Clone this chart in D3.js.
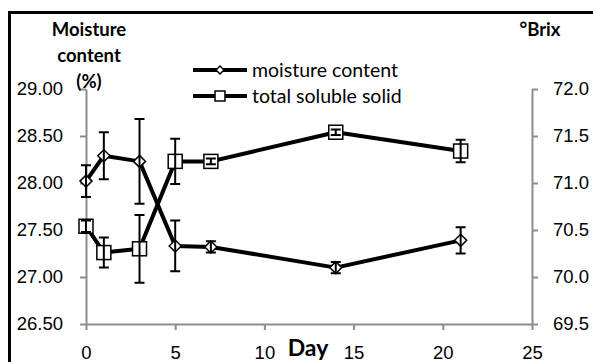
<!DOCTYPE html>
<html>
<head>
<meta charset="utf-8">
<script src="https://cdn.jsdelivr.net/npm/d3@7"></script>
<style>
  body { margin: 0; background: #fff; }
  svg { display: block; font-family: Lato, "Open Sans", sans-serif; }
</style>
</head>
<body>
<svg id="chart" width="593" height="362"></svg>
<script>
// data
var days = [0, 1, 3, 5, 7, 14, 21];
var moisture = [28.02, 28.29, 28.23, 27.33, 27.32, 27.10, 27.39];
var moistureErr = [0.17, 0.25, 0.45, 0.27, 0.06, 0.06, 0.14];
var tss = [70.54, 70.26, 70.30, 71.23, 71.23, 71.54, 71.34];
var tssErr = [0.06, 0.16, 0.36, 0.24, 0.03, 0.03, 0.12];
var xTicks = [0, 5, 10, 15, 20, 25];
var leftTicks = [26.5, 27.0, 27.5, 28.0, 28.5, 29.0];
var rightTicks = [69.5, 70.0, 70.5, 71.0, 71.5, 72.0];
var seriesNames = ['moisture content', 'total soluble solid'];

var svg = d3.select('#chart');
var axisColor = '#8c8c8c';

var x = d3.scaleLinear().domain([0, 25]).range([86, 532]);
var yL = d3.scaleLinear().domain([26.5, 29]).range([324, 89]);
var yR = d3.scaleLinear().domain([69.5, 72]).range([324, 89]);

// outer frame (only top and left edges show in the crop)
svg.append('path')
    .attr('d', 'M9.5,362 L9.5,12.5 L593,12.5')
    .attr('fill', 'none')
    .attr('stroke', '#000')
    .attr('stroke-width', 3);

function styleAxis(g) {
    g.select('.domain').attr('stroke', axisColor).attr('stroke-width', 2);
    g.selectAll('.tick line').attr('stroke', axisColor).attr('stroke-width', 2);
    g.selectAll('.tick text').attr('fill', '#000').style('font-size', '18.5px');
}

svg.append('g')
    .attr('transform', 'translate(0,324)')
    .call(d3.axisBottom(x).tickValues(xTicks).tickSize(6).tickPadding(16).tickSizeOuter(0)
        .tickFormat(d3.format('d')))
    .call(styleAxis);

svg.append('g')
    .attr('transform', 'translate(86,0)')
    .call(d3.axisLeft(yL).tickValues(leftTicks).tickSize(6).tickPadding(17).tickSizeOuter(0)
        .tickFormat(d3.format('.2f')))
    .call(styleAxis);

svg.append('g')
    .attr('transform', 'translate(532,0)')
    .call(d3.axisRight(yR).tickValues(rightTicks).tickSize(6).tickPadding(15).tickSizeOuter(0)
        .tickFormat(d3.format('.1f')))
    .call(styleAxis);

// axis titles
var leftTitle = svg.append('text')
    .attr('text-anchor', 'middle')
    .style('font-size', '18.5px')
    .style('font-weight', 'bold');
['Moisture', 'content', '(%)'].forEach(function (t, i) {
    leftTitle.append('tspan').attr('x', 89).attr('y', 36 + i * 26).text(t);
});

svg.append('text')
    .attr('x', 540).attr('y', 36)
    .attr('text-anchor', 'middle')
    .style('font-size', '18.5px')
    .style('font-weight', 'bold')
    .text('°Brix');

svg.append('text')
    .attr('x', 308).attr('y', 356)
    .attr('text-anchor', 'middle')
    .style('font-size', '23px')
    .style('font-weight', 'bold')
    .text('Day');

function diamond(sel, size) {
    return sel.append('path')
        .attr('d', 'M0,' + (-size) + ' L' + size + ',0 L0,' + size + ' L' + (-size) + ',0 Z')
        .attr('fill', '#fff')
        .attr('stroke', '#000')
        .attr('stroke-width', 1.5);
}
function square(sel, size) {
    return sel.append('rect')
        .attr('x', -size).attr('y', -size)
        .attr('width', size * 2).attr('height', size * 2)
        .attr('fill', '#fff')
        .attr('stroke', '#000')
        .attr('stroke-width', 1.5);
}

function drawSeries(vals, errs, yScale, marker, size) {
    var pts = days.map(function (d, i) { return { x: d, y: vals[i], e: errs[i] }; });
    var line = d3.line().x(function (d) { return x(d.x); }).y(function (d) { return yScale(d.y); });
    svg.append('path')
        .datum(pts)
        .attr('d', line)
        .attr('fill', 'none')
        .attr('stroke', '#000')
        .attr('stroke-width', 4)
        .attr('stroke-linejoin', 'round');

    var g = svg.append('g').selectAll('g').data(pts).enter().append('g')
        .attr('transform', function (d) { return 'translate(' + x(d.x) + ',' + yScale(d.y) + ')'; });
    g.each(function () { marker(d3.select(this), size); });

    var cap = 5;
    g.append('path')
        .attr('d', function (d) {
            var top = yScale(d.y + d.e) - yScale(d.y),
                bot = yScale(d.y - d.e) - yScale(d.y);
            return 'M0,' + top + ' L0,' + bot +
                ' M' + (-cap) + ',' + top + ' L' + cap + ',' + top +
                ' M' + (-cap) + ',' + bot + ' L' + cap + ',' + bot;
        })
        .attr('fill', 'none')
        .attr('stroke', '#000')
        .attr('stroke-width', 2);
}

drawSeries(moisture, moistureErr, yL, diamond, 6);
drawSeries(tss, tssErr, yR, square, 7);

// legend
var legend = svg.append('g');
[diamond, square].forEach(function (m, i) {
    var ly = 70 + i * 26;
    legend.append('line')
        .attr('x1', 193).attr('x2', 247)
        .attr('y1', ly).attr('y2', ly)
        .attr('stroke', '#000')
        .attr('stroke-width', 4);
    var mg = legend.append('g').attr('transform', 'translate(220,' + ly + ')');
    m(mg, i === 0 ? 4 : 5);
    legend.append('text')
        .attr('x', 252).attr('y', ly + 7)
        .style('font-size', '19.5px')
        .text(seriesNames[i]);
});
</script>
</body>
</html>
